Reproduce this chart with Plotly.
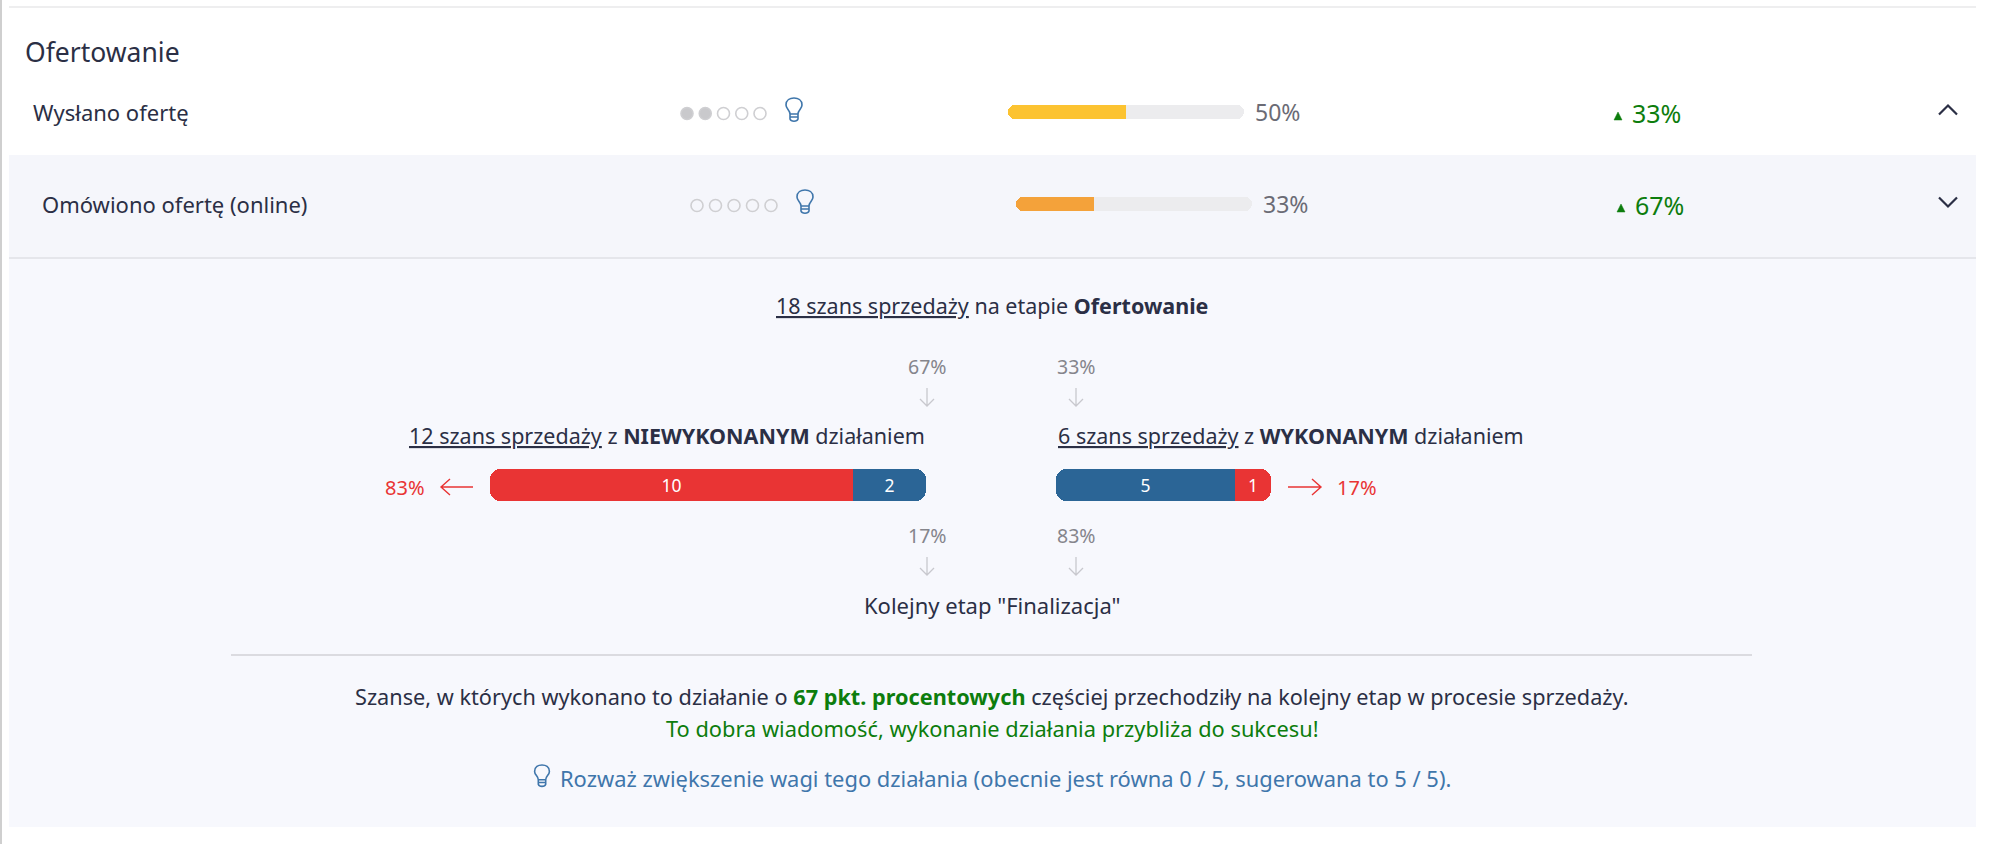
import plotly.graph_objects as go

WIDTH = 1999
HEIGHT = 844
FONT = "Noto Sans"
DARK = "#2b2f45"
GRAY = "#85858c"
RED = "#e93434"
BLUE = "#2b6596"
GREEN = "#0d7d0d"
LINK = "#3f76ab"

# top rows
row_names = ["Wysłano ofertę", "Omówiono ofertę (online)"]
row_weights = [2, 0]
max_weight = 5
row_rates = [50, 33]
row_deltas = [33, 67]
row_colors = ["#fcc331", "#f4a23a"]

# detail panel
not_done_labels = ["10", "2"]
not_done_values = [10, 2]
done_labels = ["5", "1"]
done_values = [5, 1]
top_pcts = ["67%", "33%"]
bottom_pcts = ["17%", "83%"]
side_pcts = ["83%", "17%"]

fig = go.Figure()
shapes = []
axis_count = 1


def add_axes(x0, x1, y0, y1, xrange, yrange):
    # a small pair of axes placed at a pixel box of the page
    global axis_count
    axis_count += 1
    n = axis_count
    hidden = dict(visible=False, fixedrange=True)
    fig.update_layout({
        f"xaxis{n}": dict(domain=[x0 / WIDTH, x1 / WIDTH], range=xrange, anchor=f"y{n}", **hidden),
        f"yaxis{n}": dict(domain=[1 - y1 / HEIGHT, 1 - y0 / HEIGHT], range=yrange, anchor=f"x{n}", **hidden),
    })
    return f"x{n}", f"y{n}"


def add_text(x, y, text, size=21.5, color=DARK, anchor="left"):
    fig.add_annotation(x=x, y=y - 1.5, xref="x", yref="y", text=text, showarrow=False,
                       xanchor=anchor, yanchor="middle", align=anchor, borderpad=0,
                       font=dict(family=FONT, size=size, color=color))


def add_path(d, color, width=1.5, fill=None):
    shapes.append(dict(type="path", path=d, xref="x", yref="y",
                       line=dict(color=color, width=width),
                       fillcolor=fill if fill else "rgba(0,0,0,0)", layer="above"))


def add_bulb(cx, top, scale=1.0):
    def p(dx, dy):
        return f"{cx + dx * scale:.1f},{top + dy * scale:.1f}"
    d = (f"M{p(-4, 16)} C{p(-4, 12)} {p(-8, 11)} {p(-8, 7)} C{p(-8, 2)} {p(-4, 0)} {p(0, 0)} "
         f"C{p(4, 0)} {p(8, 2)} {p(8, 7)} C{p(8, 11)} {p(4, 12)} {p(4, 16)} Z "
         f"M{p(-4, 19)} L{p(4, 19)} M{p(-4, 16)} L{p(-4, 21)} C{p(-3, 24)} {p(3, 24)} {p(4, 21)} L{p(4, 16)}")
    add_path(d, LINK, 1.6)


def add_down_arrow(cx, y0, y1):
    add_path(f"M{cx},{y0} L{cx},{y1} M{cx - 7},{y1 - 7} L{cx},{y1} L{cx + 7},{y1 - 7}", "#c8c8ce", 1.3)


def add_side_arrow(x0, x1, y):
    tip = 9 if x1 > x0 else -9
    add_path(f"M{x0},{y} L{x1},{y} M{x1 - tip},{y - 8} L{x1},{y} L{x1 - tip},{y + 8}", RED, 1.4)


def add_progress(x0, x1, y0, y1, rate, color):
    # the fill runs to the negative side so that both outer ends get rounded
    xa, ya = add_axes(x0, x1, y0, y1, [-rate, 100 - rate], [-0.5, 0.5])
    fig.add_trace(go.Bar(x=[-rate], y=[0], orientation="h", xaxis=xa, yaxis=ya,
                         marker=dict(color=color, cornerradius=7, line=dict(width=0))))
    fig.add_trace(go.Bar(x=[100 - rate], y=[0], orientation="h", xaxis=xa, yaxis=ya,
                         marker=dict(color="#ececee", cornerradius=7, line=dict(width=0))))


def add_split_bar(x0, x1, y0, y1, values, labels, colors):
    xa, ya = add_axes(x0, x1, y0, y1, [-values[0], values[1]], [-0.5, 0.5])
    for value, label, color in zip([-values[0], values[1]], labels, colors):
        fig.add_trace(go.Bar(x=[value], y=[0], orientation="h", xaxis=xa, yaxis=ya, text=[label],
                             textposition="inside", insidetextanchor="middle", textangle=0,
                             textfont=dict(family=FONT, size=17.5, color="white"),
                             marker=dict(color=color, cornerradius=10, line=dict(width=0, color=color))))


def add_dots(x0, x1, y, weight):
    pad = 10 * (max_weight - 1) / (x1 - x0)
    xa, ya = add_axes(x0 - 10, x1 + 10, y - 10, y + 10, [1 - pad, max_weight + pad], [-1, 1])
    slots = list(range(1, max_weight + 1))
    fig.add_trace(go.Scatter(x=slots, y=[0] * max_weight, mode="markers", xaxis=xa, yaxis=ya,
                             marker=dict(size=12, line=dict(color="#cfcfd2", width=1.6),
                                         color=["#c9c9cc" if s <= weight else "rgba(0,0,0,0)" for s in slots])))


# pixel canvas for the texts and icons
fig.add_trace(go.Scatter(x=[0], y=[0], mode="markers", marker_opacity=0, hoverinfo="skip"))

# backgrounds and rules
shapes.append(dict(type="rect", xref="x", yref="y", x0=9, x1=1976, y0=155, y1=827,
                   fillcolor="#f7f8fd", line_width=0, layer="below"))
shapes.append(dict(type="rect", xref="x", yref="y", x0=9, x1=1976, y0=155, y1=257,
                   fillcolor="#f5f6fb", line_width=0, layer="below"))
shapes.append(dict(type="line", xref="x", yref="y", x0=1, x1=1, y0=0, y1=HEIGHT,
                   line=dict(color="#cfcfcf", width=2), layer="below"))
shapes.append(dict(type="line", xref="x", yref="y", x0=9, x1=1976, y0=7, y1=7,
                   line=dict(color="#e8e8ea", width=1.5), layer="below"))
shapes.append(dict(type="line", xref="x", yref="y", x0=9, x1=1976, y0=258, y1=258,
                   line=dict(color="#dfe0e5", width=1.5), layer="below"))
shapes.append(dict(type="line", xref="x", yref="y", x0=231, x1=1752, y0=655, y1=655,
                   line=dict(color="#d2d2d6", width=1.5), layer="below"))

# header and rows
add_text(24, 53, "Ofertowanie", size=26.5)
row_geometry = [(32, 687, 760, 113, 794, 1008, 1618, 1631, 110),
                (40.5, 697, 771, 205, 805, 1016, 1621, 1634, 202)]
for i, (lx, dx0, dx1, y, bulb_x, bx, tri_x, delta_x, chev_y) in enumerate(row_geometry):
    add_text(lx, y, row_names[i], size=22)
    add_dots(dx0, dx1, y + 0.5, row_weights[i])
    add_bulb(bulb_x, y - 15)
    add_progress(bx, bx + 236, y - 8, y + 6, row_rates[i], row_colors[i])
    add_text(bx + 246, y, f"{row_rates[i]}%", size=23, color="#6b6b75")
    add_path(f"M{tri_x - 4},{y + 7} L{tri_x + 4},{y + 7} L{tri_x},{y - 1} Z", GREEN, 0.5, GREEN)
    add_text(delta_x, y + 1.5, f"{row_deltas[i]}%", size=25, color=GREEN)
add_path("M1939,114.5 L1948,105.5 L1957,114.5", DARK, 2.2)
add_path("M1939,197.5 L1948,206.5 L1957,197.5", DARK, 2.2)

# detail panel
add_text(992, 307, "<u>18 szans sprzedaży</u> na etapie <b>Ofertowanie</b>", anchor="center")
for x, top, bottom in zip([927, 1076], top_pcts, bottom_pcts):
    add_text(x, 368, top, size=19.5, color=GRAY, anchor="center")
    add_down_arrow(x, 388, 406)
    add_text(x, 537, bottom, size=19.5, color=GRAY, anchor="center")
    add_down_arrow(x, 557, 575)
add_text(926, 437, "<u>12 szans sprzedaży</u> z <b>NIEWYKONANYM</b> działaniem", anchor="right")
add_text(1057, 437, "<u>6 szans sprzedaży</u> z <b>WYKONANYM</b> działaniem")

add_split_bar(490, 926, 469, 501, not_done_values, not_done_labels, [RED, BLUE])
add_split_bar(1056, 1271, 469, 501, done_values, done_labels, [BLUE, RED])
add_text(426, 489, side_pcts[0], size=20, color=RED, anchor="right")
add_side_arrow(473, 441, 487)
add_side_arrow(1288, 1321, 487)
add_text(1336, 489, side_pcts[1], size=20, color=RED)

add_text(992, 606, 'Kolejny etap "Finalizacja"', size=22, anchor="center")
add_text(992, 698, "Szanse, w których wykonano to działanie o "
         f'<span style="color:{GREEN}"><b>67 pkt. procentowych</b></span>'
         " częściej przechodziły na kolejny etap w procesie sprzedaży.", size=21.7, anchor="center")
add_text(992, 730, "To dobra wiadomość, wykonanie działania przybliża do sukcesu!", size=21.8, color=GREEN, anchor="center")
add_bulb(542, 765, 0.92)
add_text(559, 780, "Rozważ zwiększenie wagi tego działania (obecnie jest równa 0 / 5, sugerowana to 5 / 5).", size=21.9, color=LINK)

fig.update_layout(
    width=WIDTH, height=HEIGHT, margin=dict(l=0, r=0, t=0, b=0),
    paper_bgcolor="white", plot_bgcolor="rgba(0,0,0,0)",
    showlegend=False, barmode="relative", bargap=0,
    xaxis=dict(domain=[0, 1], range=[0, WIDTH], visible=False, fixedrange=True),
    yaxis=dict(domain=[0, 1], range=[HEIGHT, 0], visible=False, fixedrange=True),
    shapes=shapes,
)

fig.write_html("out.html", config=dict(displayModeBar=False),
               post_script="document.body.style.margin='0';")
